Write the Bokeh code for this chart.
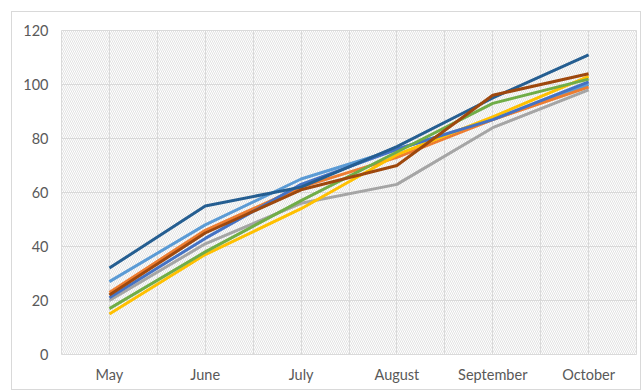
from bokeh.plotting import figure
from bokeh.models import Range1d, FixedTicker, BoxAnnotation
from bokeh.embed import file_html
from bokeh.resources import INLINE

months = ["May", "June", "July", "August", "September", "October"]
y_ticks = [0, 20, 40, 60, 80, 100, 120]

series_1 = [27, 48, 65, 76, 87, 100]
series_2 = [23, 46, 62, 73, 87, 99]
series_3 = [20, 41, 56, 63, 84, 98]
series_4 = [15, 37, 54, 74, 88, 103]
series_5 = [21, 43, 63, 76, 87, 101]
series_6 = [17, 38, 57, 75, 93, 102]
series_7 = [32, 55, 62, 77, 95, 111]
series_8 = [22, 45, 61, 70, 96, 104]

all_series = [series_1, series_2, series_3, series_4,
              series_5, series_6, series_7, series_8]
colors = ["#5B9BD5", "#ED7D31", "#A5A5A5", "#FFC000",
          "#4472C4", "#70AD47", "#255E91", "#9E480E"]

xs = list(range(len(months)))

p = figure(width=630, height=379, output_backend="svg", toolbar_location=None,
           x_range=Range1d(-0.5, len(months) - 0.5), y_range=Range1d(0, 120),
           min_border_left=49, min_border_right=6, min_border_top=18,
           min_border_bottom=37)
p.margin = (11, 0, 0, 11)
p.styles = {"border": "1px solid #d9d9d9", "box-sizing": "border-box"}

p.background_fill_color = "white"
p.border_fill_color = "white"
p.outline_line_color = "#d9d9d9"
p.outline_line_width = 1

hatch = BoxAnnotation(fill_alpha=0, line_alpha=0, hatch_pattern="\\",
                      hatch_color="#e2e2e2", hatch_scale=4, hatch_weight=1,
                      level="image")
p.add_layout(hatch)

for s, c in zip(all_series, colors):
    p.line(xs, s, line_color=c, line_width=3)

p.xaxis.ticker = FixedTicker(ticks=xs)
p.xaxis.major_label_overrides = {i: m for i, m in enumerate(months)}
p.xgrid.ticker = FixedTicker(ticks=[i * 0.5 - 0.5 for i in range(2 * len(months) + 1)])
p.yaxis.ticker = FixedTicker(ticks=y_ticks)

for ax in (p.xaxis[0], p.yaxis[0]):
    ax.axis_line_color = None
    ax.major_tick_line_color = None
    ax.minor_tick_line_color = None
    ax.major_tick_out = 0
    ax.major_tick_in = 0
    ax.major_label_text_font = "Lato"
    ax.major_label_text_font_size = "14.5px"
    ax.major_label_text_color = "#595959"
p.xaxis.major_label_standoff = 11
p.yaxis.major_label_standoff = 13

p.xgrid.grid_line_color = "#d9d9d9"
p.ygrid.grid_line_color = "#d9d9d9"
p.xgrid.grid_line_width = 1
p.ygrid.grid_line_width = 1

open("out.html", "w").write(file_html(p, INLINE))
